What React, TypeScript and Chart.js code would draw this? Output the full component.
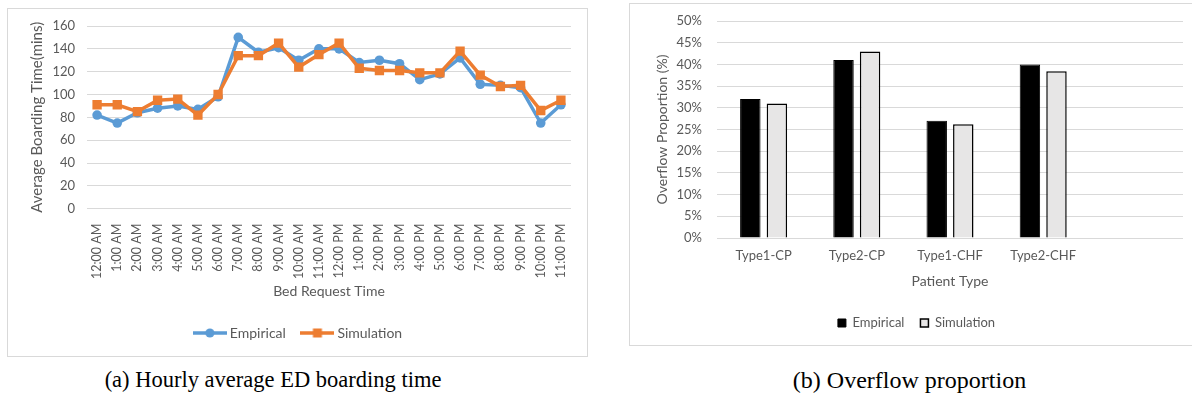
import React, { useEffect, useRef } from "react";
import { Chart, registerables } from "chart.js";

Chart.register(...registerables);

// ---------- data ----------
const hours = [
  "12:00 AM", "1:00 AM", "2:00 AM", "3:00 AM", "4:00 AM", "5:00 AM",
  "6:00 AM", "7:00 AM", "8:00 AM", "9:00 AM", "10:00 AM", "11:00 AM",
  "12:00 PM", "1:00 PM", "2:00 PM", "3:00 PM", "4:00 PM", "5:00 PM",
  "6:00 PM", "7:00 PM", "8:00 PM", "9:00 PM", "10:00 PM", "11:00 PM",
];
const empiricalBoarding = [82, 75, 84, 88, 90, 87, 98, 150, 137, 141, 130, 140, 140, 128, 130, 127, 113, 118, 132, 109, 108, 106, 75, 91];
const simulationBoarding = [91, 91, 85, 95, 96, 82, 100, 134, 134, 145, 124, 135, 145, 123, 121, 121, 119, 119, 138, 117, 107, 108, 86, 95];

const patientTypes = ["Type1-CP", "Type2-CP", "Type1-CHF", "Type2-CHF", ""];
const empiricalOverflow = [32, 41, 27, 40, null];
const simulationOverflow = [31, 43, 26.2, 38.4, null];

const seriesNames = ["Empirical", "Simulation"];

// ---------- styles ----------
const FONT = "Lato, 'Open Sans', sans-serif";
const TEXT = "#595959";
const GRID = "#d9d9d9";
const BLUE = "#5B9BD5";
const ORANGE = "#ED7D31";
const GRAYBAR = "#E7E6E6";

function lineMarkerIcon(color: string, shape: "circle" | "rect") {
  const c = document.createElement("canvas");
  c.width = 34;
  c.height = 12;
  const ctx = c.getContext("2d")!;
  ctx.strokeStyle = color;
  ctx.lineWidth = 3.5;
  ctx.beginPath();
  ctx.moveTo(0, 6);
  ctx.lineTo(34, 6);
  ctx.stroke();
  ctx.fillStyle = color;
  if (shape === "circle") {
    ctx.beginPath();
    ctx.arc(17, 6, 4.6, 0, Math.PI * 2);
    ctx.fill();
  } else {
    ctx.fillRect(12.5, 1.5, 9, 9);
  }
  return c;
}

const noVerticalPadding = (s: any, width?: number) => {
  if (width !== undefined) s.width = width;
  s.paddingTop = 0;
  s.paddingBottom = 0;
};

function BoardingChart() {
  const ref = useRef<HTMLCanvasElement>(null);
  useEffect(() => {
    const icons = [lineMarkerIcon(BLUE, "circle"), lineMarkerIcon(ORANGE, "rect")];
    const chart = new Chart(ref.current!, {
      type: "line",
      data: {
        labels: hours,
        datasets: [
          {
            label: seriesNames[0],
            data: empiricalBoarding,
            borderColor: BLUE,
            backgroundColor: BLUE,
            borderWidth: 3.5,
            pointStyle: "circle",
            pointRadius: 4.8,
            pointBorderWidth: 0,
            tension: 0,
            order: 1,
          },
          {
            label: seriesNames[1],
            data: simulationBoarding,
            borderColor: ORANGE,
            backgroundColor: ORANGE,
            borderWidth: 3.5,
            pointStyle: "rect",
            pointRadius: 6.6,
            pointBorderWidth: 0,
            tension: 0,
            order: 0,
          },
        ],
      },
      options: {
        animation: false,
        responsive: false,
        layout: { padding: { top: 17, right: 16, left: 20, bottom: 6 } },
        plugins: {
          tooltip: { enabled: false },
          legend: {
            position: "bottom",
            labels: {
              usePointStyle: true,
              pointStyleWidth: 26,
              padding: 18.5,
              color: TEXT,
              font: { family: FONT, size: 14 },
              generateLabels: () =>
                seriesNames.map((n, i) => ({
                  text: n,
                  fillStyle: i === 0 ? BLUE : ORANGE,
                  strokeStyle: i === 0 ? BLUE : ORANGE,
                  lineWidth: 0,
                  pointStyle: icons[i],
                  fontColor: TEXT,
                  hidden: false,
                  datasetIndex: i,
                })),
            },
          },
        },
        scales: {
          x: {
            offset: true,
            grid: { display: false, offset: true },
            border: { display: false },
            ticks: {
              autoSkip: false,
              minRotation: 90,
              maxRotation: 90,
              padding: 7,
              color: TEXT,
              font: { family: FONT, size: 12.5 },
            },
            title: {
              display: true,
              text: "Bed Request Time",
              color: TEXT,
              font: { family: FONT, size: 14 },
              padding: { top: 0, bottom: 8.1 },
            },
            afterFit: (s: any) => {
              s.height = 98.8;
            },
          },
          y: {
            min: 0,
            max: 160,
            ticks: {
              stepSize: 20,
              padding: 12,
              color: TEXT,
              font: { family: FONT, size: 13 },
            },
            grid: { color: GRID, lineWidth: 1, drawTicks: false },
            border: { display: false },
            title: {
              display: true,
              text: "Average Boarding Time(mins)",
              color: TEXT,
              font: { family: FONT, size: 15 },
              padding: { top: 0.5, bottom: 0 },
            },
            afterFit: (s: any) => noVerticalPadding(s, 59),
          },
        },
      },
    } as any);
    return () => chart.destroy();
  }, []);
  return <canvas ref={ref} width={579} height={347} style={{ display: "block" }} />;
}

function OverflowChart() {
  const ref = useRef<HTMLCanvasElement>(null);
  useEffect(() => {
    const chart = new Chart(ref.current!, {
      type: "bar",
      data: {
        labels: patientTypes,
        datasets: [
          {
            label: seriesNames[0],
            data: empiricalOverflow,
            backgroundColor: "#000000",
            borderColor: "#000000",
            borderWidth: 1,
            categoryPercentage: 0.57,
            barPercentage: 0.77,
          },
          {
            label: seriesNames[1],
            data: simulationOverflow,
            backgroundColor: GRAYBAR,
            borderColor: "#000000",
            borderWidth: 1.5,
            categoryPercentage: 0.57,
            barPercentage: 0.77,
          },
        ],
      },
      options: {
        animation: false,
        responsive: false,
        layout: { padding: { top: 17, right: 9, left: 20, bottom: 5.5 } },
        plugins: {
          tooltip: { enabled: false },
          legend: {
            position: "bottom",
            labels: {
              boxWidth: 8,
              boxHeight: 8,
              padding: 16,
              color: TEXT,
              font: { family: FONT, size: 13 },
            },
          },
        },
        scales: {
          x: {
            grid: { display: false },
            border: { display: false },
            ticks: {
              padding: 2,
              color: TEXT,
              font: { family: FONT, size: 13 },
            },
            title: {
              display: true,
              text: "Patient Type",
              color: TEXT,
              font: { family: FONT, size: 14 },
              padding: { top: 0, bottom: 11.1 },
            },
            afterFit: (s: any) => {
              s.height = 62.5;
            },
          },
          y: {
            min: 0,
            max: 50,
            ticks: {
              stepSize: 5,
              padding: 15,
              color: TEXT,
              font: { family: FONT, size: 13 },
              callback: (v: any) => `${v}%`,
            },
            grid: { color: GRID, lineWidth: 1, drawTicks: false },
            border: { display: false },
            title: {
              display: true,
              text: "Overflow Proportion (%)",
              color: TEXT,
              font: { family: FONT, size: 14 },
              padding: { top: 4, bottom: 0 },
            },
            afterFit: (s: any) => noVerticalPadding(s, 67),
          },
        },
      },
    } as any);
    return () => chart.destroy();
  }, []);
  return <canvas ref={ref} width={562} height={341} style={{ display: "block" }} />;
}

export default function App() {
  const caption: React.CSSProperties = {
    position: "absolute",
    top: 366,
    fontFamily: "'Liberation Serif', 'Times New Roman', serif",
    color: "#000",
    whiteSpace: "nowrap",
    transform: "translateX(-50%)",
    lineHeight: "28px",
  };
  return (
    <div style={{ position: "fixed", left: 0, top: 0, width: 1192, height: 402, background: "#fff", overflow: "hidden" }}>
      <div
        style={{
          position: "absolute",
          left: 7,
          top: 8,
          width: 579,
          height: 347,
          border: `1px solid ${GRID}`,
        }}
      >
        <BoardingChart />
      </div>
      <div
        style={{
          position: "absolute",
          left: 629,
          top: 3,
          width: 563,
          height: 341,
          border: `1px solid ${GRID}`,
          borderRight: "none",
        }}
      >
        <OverflowChart />
      </div>
      <div style={{ ...caption, left: 273, fontSize: 22.5 }}>(a) Hourly average ED boarding time</div>
      <div style={{ ...caption, left: 909.5, fontSize: 24 }}>(b) Overflow proportion</div>
    </div>
  );
}
